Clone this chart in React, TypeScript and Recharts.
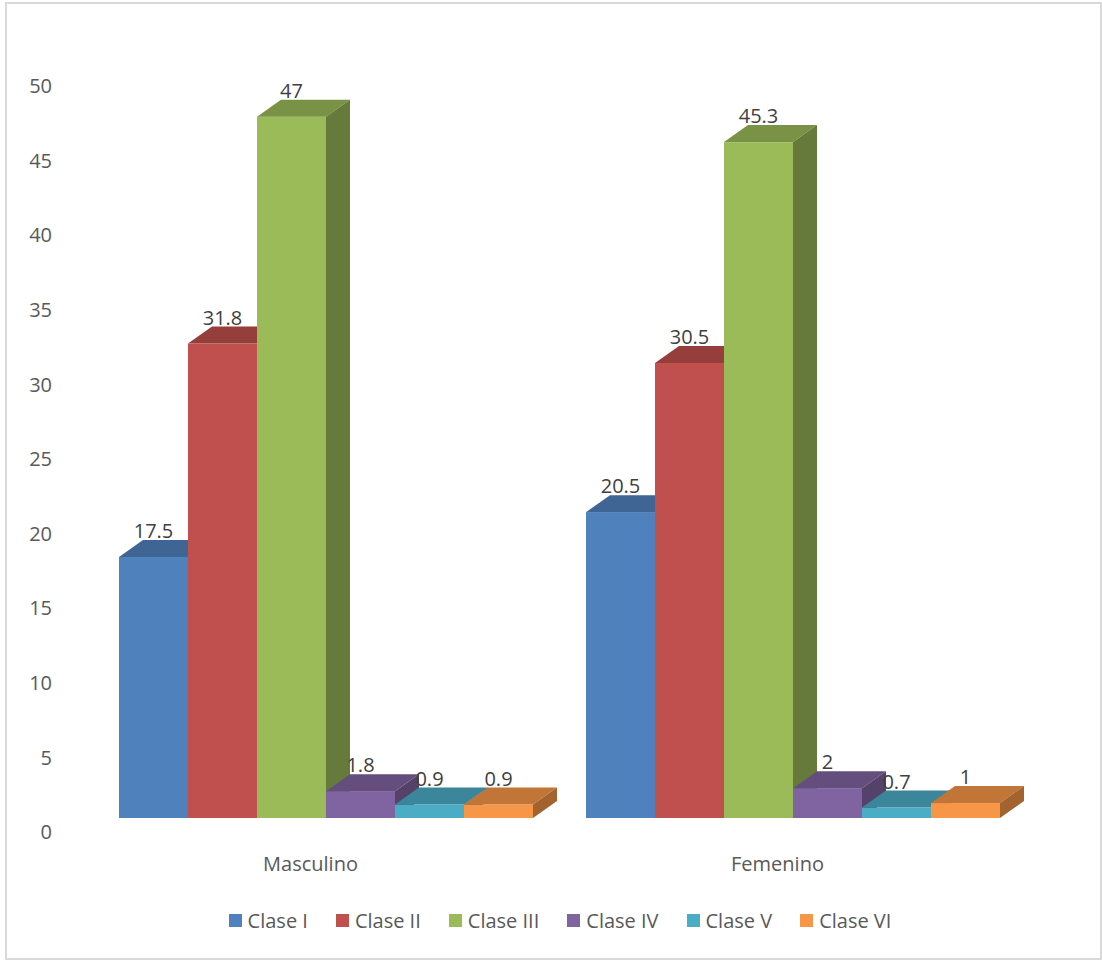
import React from "react";
import { BarChart, Bar, XAxis, YAxis, Legend, LabelList } from "recharts";

const categories = ["Masculino", "Femenino"];
const seriesNames = ["Clase I", "Clase II", "Clase III", "Clase IV", "Clase V", "Clase VI"];
const claseI = [17.5, 20.5];
const claseII = [31.8, 30.5];
const claseIII = [47, 45.3];
const claseIV = [1.8, 2];
const claseV = [0.9, 0.7];
const claseVI = [0.9, 1];
const yTicks = [0, 5, 10, 15, 20, 25, 30, 35, 40, 45, 50];

const seriesValues = [claseI, claseII, claseIII, claseIV, claseV, claseVI];
const colors = ["#4F81BD", "#C0504D", "#9BBB59", "#8064A2", "#4BACC6", "#F79646"];

const data = categories.map((name, i) => {
  const row: Record<string, string | number> = { name };
  seriesNames.forEach((s, j) => {
    row[s] = seriesValues[j][i];
  });
  return row;
});

const DX = 24;
const DY = 17;
const FONT = "'Open Sans', 'Liberation Sans', sans-serif";
const FS = 20;

function shade(hex: string, k: number) {
  const n = parseInt(hex.slice(1), 16);
  const r = Math.round(((n >> 16) & 255) * k);
  const g = Math.round(((n >> 8) & 255) * k);
  const b = Math.round((n & 255) * k);
  return `rgb(${r},${g},${b})`;
}

function makeShape(color: string) {
  const top = shade(color, 0.78);
  const side = shade(color, 0.66);
  return (props: any) => {
    const { x, y, width, height } = props;
    if (width == null || height == null) return null;
    const r = x + width;
    const b = y + height;
    return (
      <g>
        <rect x={x} y={y} width={width} height={height} fill={color} />
        <polygon
          points={`${x},${y} ${x + DX},${y - DY} ${r + DX},${y - DY} ${r},${y}`}
          fill={top}
        />
        <polygon
          points={`${r},${y} ${r + DX},${y - DY} ${r + DX},${b - DY} ${r},${b}`}
          fill={side}
        />
      </g>
    );
  };
}

const renderLabel = (props: any) => {
  const { x, y, width, value } = props;
  return (
    <text
      x={x + width / 2}
      y={y - DY - 2}
      textAnchor="middle"
      fill="#404040"
      fontSize={FS}
      fontFamily={FONT}
    >
      {value}
    </text>
  );
};

const YTick = (props: any) => {
  const { x, y, payload } = props;
  return (
    <text x={x} y={y + 14} dy="0.355em" textAnchor="end" fill="#595959" fontSize={FS} fontFamily={FONT}>
      {payload.value}
    </text>
  );
};

const XTick = (props: any) => {
  const { x, y, payload } = props;
  return (
    <text x={x - 15} y={y + 46} dy="0.355em" textAnchor="middle" fill="#595959" fontSize={FS} fontFamily={FONT}>
      {payload.value}
    </text>
  );
};

const LegendContent = () => (
  <div
    style={{
      width: 1102,
      height: 40,
      display: "flex",
      alignItems: "center",
      justifyContent: "center",
      paddingLeft: 18,
      boxSizing: "border-box",
      fontFamily: FONT,
      fontSize: FS,
      color: "#595959",
    }}
  >
    {seriesNames.map((s, i) => (
      <div key={s} style={{ display: "flex", alignItems: "center", marginRight: i < seriesNames.length - 1 ? 28 : 0 }}>
        <span style={{ width: 13, height: 13, background: colors[i], marginRight: 6, display: "inline-block" }} />
        <span>{s}</span>
      </div>
    ))}
  </div>
);

export default function App() {
  return (
    <div style={{ position: "absolute", left: 0, top: 0, width: 1102, height: 960, background: "#fff", fontFamily: FONT }}>
      <div
        style={{
          position: "absolute",
          left: 5,
          top: 2,
          width: 1097,
          height: 958,
          border: "2px solid #d9d9d9",
          boxSizing: "border-box",
        }}
      />
      <div style={{ position: "absolute", left: 0, top: 0 }}>
        <BarChart
          width={1102}
          height={960}
          data={data}
          margin={{ top: 72, right: 76, bottom: 20, left: 0 }}
          barGap={0}
        >
          <XAxis
            dataKey="name"
            axisLine={false}
            tickLine={false}
            tickSize={0}
            tickMargin={0}
            height={82}
            tick={<XTick />}
          />
          <YAxis
            domain={[0, 50]}
            ticks={yTicks}
            axisLine={false}
            tickLine={false}
            tickSize={0}
            tickMargin={40}
            width={92}
            tick={<YTick />}
          />
          <Legend
            verticalAlign="bottom"
            height={40}
            wrapperStyle={{ left: 0, width: 1102 }}
            content={<LegendContent />}
          />
          {seriesNames.map((s, i) => (
            <Bar key={s} dataKey={s} barSize={69} fill={colors[i]} shape={makeShape(colors[i])} isAnimationActive={false}>
              <LabelList dataKey={s} content={renderLabel} />
            </Bar>
          ))}
        </BarChart>
      </div>
    </div>
  );
}
